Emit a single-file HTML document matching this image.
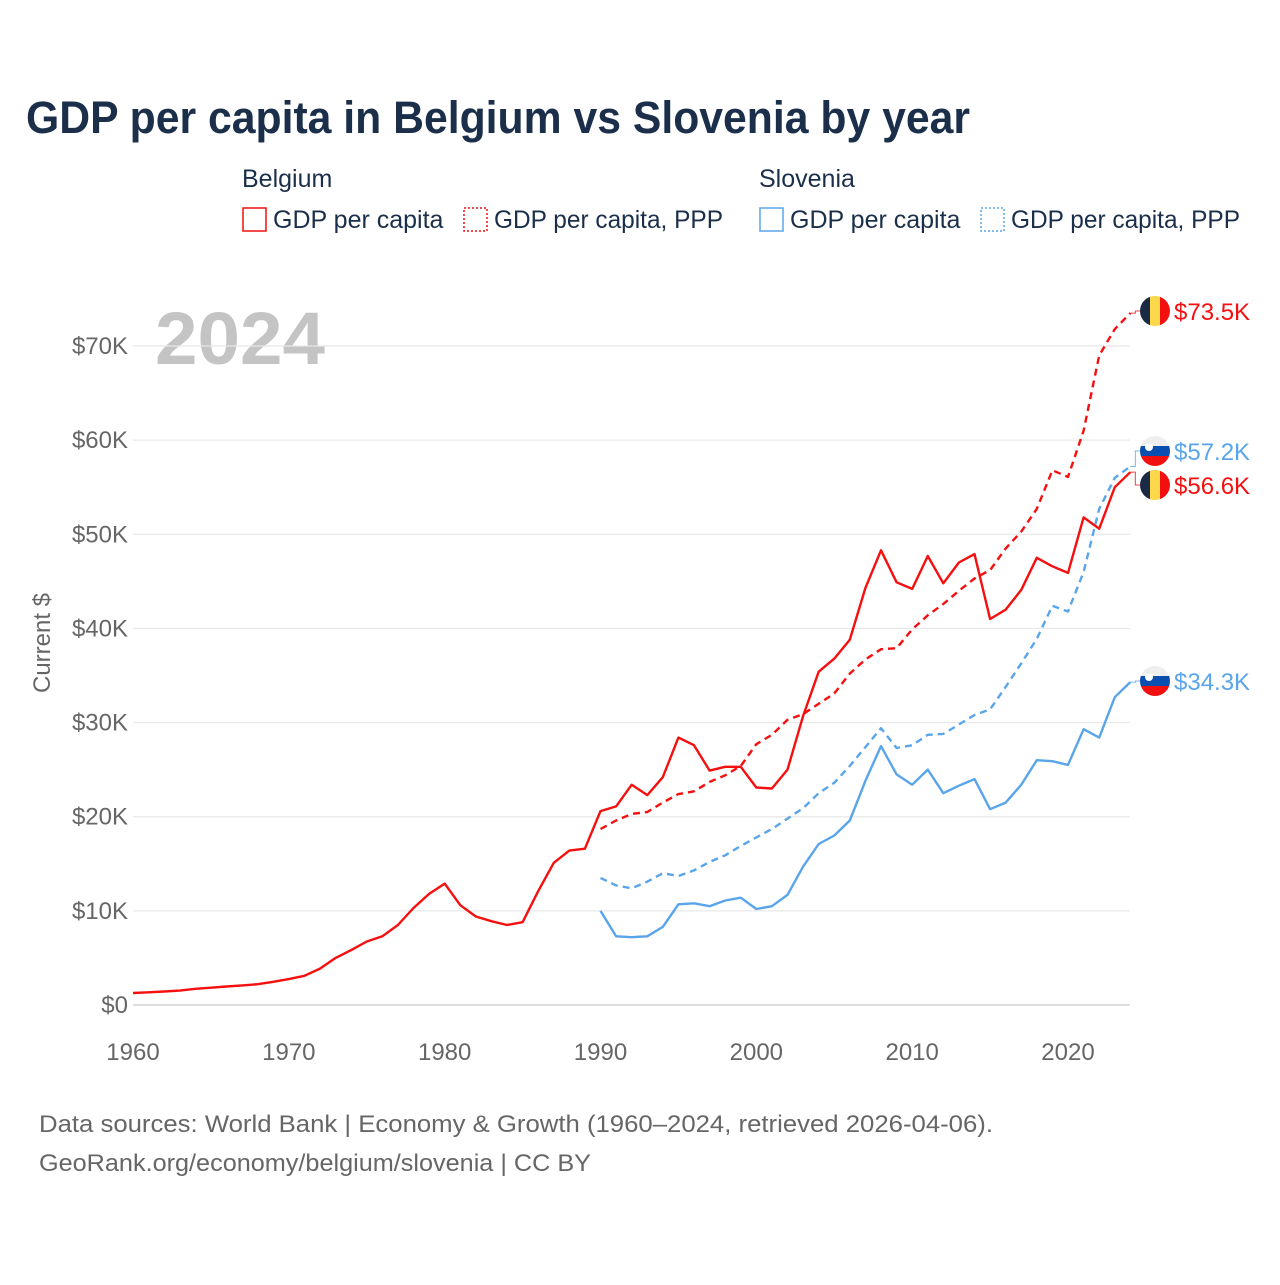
<!DOCTYPE html>
<html><head><meta charset="utf-8"><style>
body{margin:0;background:#fff;font-family:"Liberation Sans",sans-serif;}
svg text{font-family:"Liberation Sans",sans-serif;}
</style></head><body>
<svg id="chart" width="1280" height="1280" viewBox="0 0 1280 1280" xmlns="http://www.w3.org/2000/svg">
<text x="26" y="133" font-size="45" font-weight="bold" fill="#1b2f4b" textLength="944" lengthAdjust="spacingAndGlyphs">GDP per capita in Belgium vs Slovenia by year</text>
<g font-size="25" fill="#1b2f4b">
<text x="242" y="187">Belgium</text>
<text x="759" y="187">Slovenia</text>
<g><rect x="243" y="208" width="23" height="23" fill="none" stroke="#f20f0f" stroke-width="1.5"/><text x="273" y="228">GDP per capita</text></g>
<g><rect x="464" y="208" width="23" height="23" fill="none" stroke="#f20f0f" stroke-width="1.5" stroke-dasharray="2,2"/><text x="494" y="228" textLength="229" lengthAdjust="spacingAndGlyphs">GDP per capita, PPP</text></g>
<g><rect x="760" y="208" width="23" height="23" fill="none" stroke="#5aa5ea" stroke-width="1.5"/><text x="790" y="228">GDP per capita</text></g>
<g><rect x="981" y="208" width="23" height="23" fill="none" stroke="#5aa5ea" stroke-width="1.5" stroke-dasharray="2,2"/><text x="1011" y="228" textLength="229" lengthAdjust="spacingAndGlyphs">GDP per capita, PPP</text></g>
</g>
<text x="155" y="364" font-size="74" font-weight="bold" fill="#c4c4c4" textLength="170" lengthAdjust="spacingAndGlyphs">2024</text>
<text transform="translate(50,643) rotate(-90)" text-anchor="middle" font-size="24" fill="#666">Current $</text>
<g id="grid"></g><g id="yt"></g><g id="xt"></g><g id="lines"></g><g id="ends"></g>
<text x="39" y="1132" font-size="24" fill="#666" textLength="954" lengthAdjust="spacingAndGlyphs">Data sources: World Bank | Economy &amp; Growth (1960–2024, retrieved 2026-04-06).</text>
<text x="39" y="1171" font-size="24" fill="#666" textLength="552" lengthAdjust="spacingAndGlyphs">GeoRank.org/economy/belgium/slovenia | CC BY</text>
</svg>
<script>
const yTicks=[0,10,20,30,40,50,60,70];
const xTicks=[1960,1970,1980,1990,2000,2010,2020];
const beYears=[];for(let y=1960;y<=2024;y++)beYears.push(y);
const beGdp=[1.27,1.35,1.43,1.53,1.72,1.84,1.96,2.08,2.21,2.46,2.75,3.1,3.87,5.0,5.83,6.74,7.3,8.5,10.3,11.8,12.9,10.6,9.4,8.9,8.5,8.8,12.1,15.1,16.4,16.6,20.6,21.1,23.4,22.3,24.2,28.4,27.6,24.9,25.3,25.3,23.1,23.0,25.0,30.7,35.4,36.8,38.8,44.3,48.3,44.9,44.2,47.7,44.8,47.0,47.9,41.0,42.0,44.1,47.5,46.6,45.9,51.8,50.6,55.0,56.6];
const laterYears=[];for(let y=1990;y<=2024;y++)laterYears.push(y);
const bePpp=[18.7,19.6,20.3,20.5,21.5,22.4,22.7,23.7,24.4,25.4,27.7,28.7,30.3,30.9,32.0,33.1,35.2,36.7,37.8,37.9,39.9,41.4,42.6,44.0,45.3,46.2,48.5,50.3,52.7,56.8,56.1,61.0,69.0,71.8,73.5];
const siGdp=[10.0,7.3,7.2,7.3,8.3,10.7,10.8,10.5,11.1,11.4,10.2,10.5,11.7,14.7,17.1,18.0,19.6,23.8,27.5,24.5,23.4,25.0,22.5,23.3,24.0,20.8,21.5,23.4,26.0,25.9,25.5,29.3,28.4,32.7,34.3];
const siPpp=[13.5,12.7,12.4,13.1,14.0,13.7,14.3,15.2,15.9,16.9,17.8,18.7,19.8,20.9,22.5,23.6,25.4,27.4,29.4,27.3,27.6,28.7,28.8,29.8,30.8,31.4,33.8,36.3,38.9,42.4,41.8,46.0,52.7,56.0,57.2];
const endLabels=["$73.5K","$57.2K","$56.6K","$34.3K"];
const NS="http://www.w3.org/2000/svg";
const X=y=>133+(y-1960)*935/60;
const Y=v=>1005-v*9.414;
function mk(t,a,p){const e=document.createElementNS(NS,t);for(const k in a)e.setAttribute(k,a[k]);p.appendChild(e);return e;}
const grid=document.getElementById('grid'),yt=document.getElementById('yt'),xt=document.getElementById('xt');
yTicks.forEach(v=>{
 const l=mk('line',{x1:133,x2:1130,y1:Y(v),y2:Y(v),stroke:v===0?'#ddd':'#e8e8e8','stroke-width':v===0?2:1.2},grid);
 
 
 const t=mk('text',{x:128,y:Y(v)+8,'text-anchor':'end','font-size':24,fill:'#666'},yt);
 t.textContent=v===0?'$0':'$'+v+'K';
 
 
});
xTicks.forEach(v=>{
 const t=mk('text',{x:X(v),y:1060,'text-anchor':'middle','font-size':24,fill:'#666'},xt);
 t.textContent=v;
 
 
});
const lines=document.getElementById('lines');
function series(xs,vs,col,dash,name){
 const d=vs.map((v,i)=>(i?'L':'M')+X(xs[i]).toFixed(1)+','+Y(v).toFixed(1)).join('');
 const p=mk('path',{d:d,fill:'none',stroke:col,'stroke-width':2.4,'stroke-dasharray':dash,'stroke-linejoin':'round'},lines);
 
 
}
const RED='#f50f0f',BLUE='#5aa5ea';
series(laterYears,siPpp,BLUE,'7,5','line-slovenia-ppp');
series(laterYears,siGdp,BLUE,'','line-slovenia-gdp');
series(laterYears,bePpp,RED,'7,5','line-belgium-ppp');
series(beYears,beGdp,RED,'','line-belgium-gdp');
const ends=document.getElementById('ends');
const endVals=[bePpp[bePpp.length-1],siPpp[siPpp.length-1],beGdp[beGdp.length-1],siGdp[siGdp.length-1]];
const endCols=[RED,BLUE,RED,BLUE];
const endFlags=['be','si','be','si'];
const flagY=[311,451,485,681];
endVals.forEach((v,i)=>{
 const g=mk('g',{},ends);
 
 
 const x0=X(2024),y0=Y(v),fy=flagY[i];
 mk('path',{d:`M${x0},${y0}L${x0+5},${y0}L${x0+5},${fy}L1140,${fy}`,fill:'none',stroke:endCols[i],'stroke-width':1,opacity:0.8},g);
 const cid='c'+i;
 const cp=mk('clipPath',{id:cid},g);mk('circle',{cx:1155,cy:fy,r:15},cp);
 const fg=mk('g',{'clip-path':`url(#${cid})`},g);
 if(endFlags[i]==='be'){
  mk('rect',{x:1140,y:fy-15,width:10,height:30,fill:'#1b2a44'},fg);
  mk('rect',{x:1150,y:fy-15,width:10,height:30,fill:'#fcd84a'},fg);
  mk('rect',{x:1160,y:fy-15,width:10,height:30,fill:'#f20f0f'},fg);
 }else{
  mk('rect',{x:1140,y:fy-15,width:30,height:10,fill:'#eee'},fg);
  mk('rect',{x:1140,y:fy-5,width:30,height:10,fill:'#0a4fb0'},fg);
  mk('rect',{x:1140,y:fy+5,width:30,height:10,fill:'#f20f0f'},fg);
  mk('path',{d:`M1145,${fy-7}h8v3a4,4 0 0 1 -8,0z`,fill:'#fff'},fg);
 }
 const t=mk('text',{x:1174,y:fy+9,'font-size':24,fill:endCols[i]},g);
 t.textContent=endLabels[i];
});
</script>
</body></html>
